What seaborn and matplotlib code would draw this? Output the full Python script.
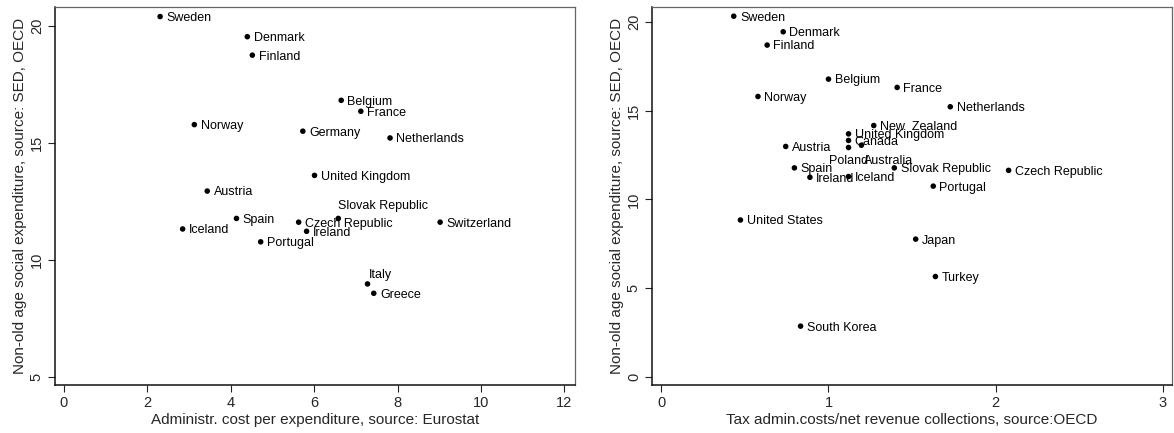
import matplotlib
matplotlib.use("Agg")
import matplotlib.pyplot as plt
import pandas as pd
import seaborn as sns

# Left panel: administrative cost per expenditure (Eurostat)
eu_countries = ["Sweden", "Denmark", "Finland", "Belgium", "France", "Norway",
                "Germany", "Netherlands", "United Kingdom", "Austria", "Spain",
                "Czech Republic", "Slovak Republic", "Switzerland", "Iceland",
                "Ireland", "Portugal", "Italy", "Greece"]
eu_admin_cost = [2.31, 4.40, 4.52, 6.65, 7.12, 3.13, 5.73, 7.82, 6.01, 3.44,
                 4.14, 5.63, 6.58, 9.02, 2.85, 5.82, 4.72, 7.28, 7.43]
eu_social_exp = [20.39, 19.53, 18.74, 16.81, 16.34, 15.77, 15.49, 15.20, 13.60,
                 12.93, 11.76, 11.60, 11.76, 11.60, 11.31, 11.21, 10.76, 8.96, 8.56]

# Right panel: tax admin costs / net revenue collections (OECD)
oecd_countries = ["Sweden", "Denmark", "Finland", "Belgium", "France", "Norway",
                  "Netherlands", "New  Zealand", "United Kingdom", "Canada",
                  "Poland", "Australia", "Austria", "Spain", "Ireland", "Iceland",
                  "Slovak Republic", "Czech Republic", "Portugal", "United States",
                  "Japan", "Turkey", "South Korea"]
oecd_tax_cost = [0.433, 0.729, 0.633, 1.00, 1.411, 0.578, 1.729, 1.271, 1.12,
                 1.12, 1.12, 1.197, 0.744, 0.796, 0.889, 1.12, 1.394, 2.078,
                 1.627, 0.473, 1.522, 1.64, 0.833]
oecd_social_exp = [20.34, 19.46, 18.71, 16.79, 16.32, 15.81, 15.23, 14.17, 13.70,
                   13.33, 12.93, 13.06, 12.99, 11.78, 11.25, 11.29, 11.78, 11.64,
                   10.75, 8.84, 7.76, 5.65, 2.85]

y_title = "Non-old age social expenditure, source: SED, OECD"

sns.set_style("ticks")
plt.rcParams["font.family"] = ["Liberation Sans", "DejaVu Sans"]

fig = plt.figure(figsize=(11.74, 4.33), dpi=100)
ax1 = fig.add_axes([0.0468, 0.1109, 0.4429, 0.873])
ax2 = fig.add_axes([0.5554, 0.1109, 0.4429, 0.873])

# label offsets (points) for the few labels not placed right of the dot
eu_special = {
    "Slovak Republic": (0, 9, "left"),
    "Italy": (1, 6.5, "left"),
}
oecd_special = {
    "Poland": (0, -10, "center"),
    "Australia": (2, -11.5, "left"),
}


def panel(ax, names, xs, ys, special, xlabel, xlim, ylim, xticks, yticks):
    df = pd.DataFrame({"x": xs, "y": ys, "name": names})
    sns.scatterplot(data=df, x="x", y="y", ax=ax, color="black", s=16,
                    edgecolor="none", legend=False)
    for _, r in df.iterrows():
        dx, dy, ha = special.get(r["name"], (4.5, -1, "left"))
        ax.annotate(r["name"], (r["x"], r["y"]), xytext=(dx, dy),
                    textcoords="offset points", ha=ha, va="center",
                    fontsize=9, color="black")
    ax.set_xlim(*xlim)
    ax.set_ylim(*ylim)
    ax.set_xticks(xticks)
    ax.set_yticks(yticks)
    ax.set_xlabel(xlabel, fontsize=11, labelpad=2)
    ax.set_ylabel(y_title, fontsize=11, labelpad=2)
    ax.tick_params(axis="both", direction="out", length=5, width=0.8,
                   labelsize=10.5, pad=3, color="#222222")
    for lab in ax.get_yticklabels():
        lab.set_rotation(90)
        lab.set_va("center")
    for side in ["left", "bottom"]:
        ax.spines[side].set_color("#111111")
        ax.spines[side].set_linewidth(1.1)
    for side in ["top", "right"]:
        ax.spines[side].set_visible(True)
        ax.spines[side].set_color("#666666")
        ax.spines[side].set_linewidth(0.9)


panel(ax1, eu_countries, eu_admin_cost, eu_social_exp, eu_special,
      "Administr. cost per expenditure, source: Eurostat",
      (-0.21, 12.25), (4.64, 20.8), range(0, 13, 2), [5, 10, 15, 20])
panel(ax2, oecd_countries, oecd_tax_cost, oecd_social_exp, oecd_special,
      "Tax admin.costs/net revenue collections, source:OECD",
      (-0.056, 3.056), (-0.47, 20.86), [0, 1, 2, 3], [0, 5, 10, 15, 20])

fig.savefig("out.png", dpi=100)
